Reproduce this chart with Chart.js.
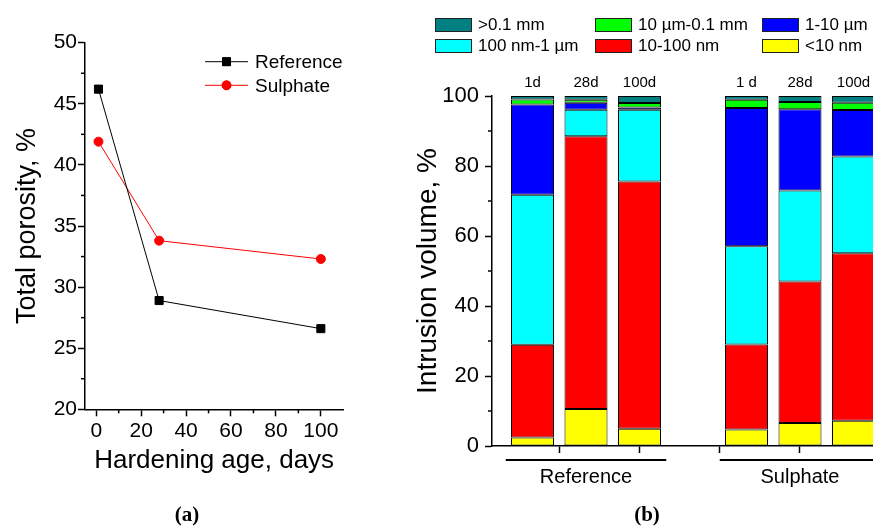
<!DOCTYPE html>
<html><head><meta charset="utf-8">
<script src="https://cdn.jsdelivr.net/npm/chart.js@4/dist/chart.umd.min.js"></script>
<style>
html,body{margin:0;padding:0;background:#fff;overflow:hidden;width:873px;height:527px;position:relative;}
#wa{position:absolute;left:0;top:0;width:360px;height:527px;}
#wb{position:absolute;left:400px;top:0;width:500px;height:527px;}
.cap{position:absolute;font:bold 21px "Liberation Serif",serif;top:502px;transform:translateX(-50%);color:#000;}
#legB{position:absolute;left:435px;top:18px;display:grid;grid-template-columns:160px 167px auto;row-gap:7px;font:17px "Liberation Sans",Arial,sans-serif;color:#000;}
.li{display:flex;align-items:center;height:14px;white-space:nowrap;}
.sw{width:35px;height:12px;border:1px solid #222;margin-right:6px;flex:none;}
</style></head><body>
<div id="wa"><canvas id="ca"></canvas></div>
<div id="wb"><canvas id="cb"></canvas></div>
<div id="legB"></div>
<div class="cap" style="left:187px">(a)</div>
<div class="cap" style="left:647px">(b)</div>
<script>
const FONT = '"Liberation Sans", Arial, sans-serif';

// ---- Panel (a): total porosity ----
const ageDays = [1, 28, 100];
const porosityReference = [46.2, 28.9, 26.6];
const porositySulphate = [41.9, 33.8, 32.3];
const seriesNames = ['Reference', 'Sulphate'];

// ---- Panel (b): intrusion volume by pore class ----
const groupNames = ['Reference', 'Sulphate'];
const groupAges = [['1d', '28d', '100d'], ['1 d', '28d', '100d']];
const poreClasses = ['<10 nm', '10-100 nm', '100 nm-1 µm', '1-10 µm', '10 µm-0.1 mm', '>0.1 mm'];
// order of bars: Ref 1d, Ref 28d, Ref 100d, Sul 1d, Sul 28d, Sul 100d
const volBelow10nm   = [2.4, 10.6, 4.9, 4.7, 6.6, 7.2];
const vol10to100nm   = [26.5, 77.9, 70.7, 24.3, 40.4, 47.9];
const vol100nmTo1um  = [42.9, 7.6, 20.5, 28.1, 26.0, 27.6];
const vol1to10um     = [25.8, 2.0, 0.6, 39.5, 23.2, 13.3];
const vol10umTo01mm  = [1.4, 0.8, 1.3, 2.3, 2.1, 2.1];
const volAbove01mm   = [1.0, 1.1, 2.0, 1.1, 1.7, 1.9];
const volumeTicks = [0, 20, 40, 60, 80, 100];
const groupAxisTicks = [0.5, 2, 3.5, 5, 6.5];

const classValues = [volBelow10nm, vol10to100nm, vol100nmTo1um, vol1to10um, vol10umTo01mm, volAbove01mm];
const classColors = ['#ffff00', '#ff0000', '#00ffff', '#0000ff', '#00ff00', '#008080'];

Chart.defaults.color = '#000';
Chart.defaults.font.family = FONT;

// slot index for each bar (a blank slot separates the two groups)
const SLOTS_PER_GROUP = 4;
const barSlots = [];
const barLabels = [];
groupAges.forEach((ages, g) => ages.forEach((a, i) => { barSlots.push(g * SLOTS_PER_GROUP + i); barLabels.push(a); }));

// minor ticks plugin (midpoints between major ticks)
const minorTicks = {
  id: 'minorTicks',
  afterDraw(chart, args, opts) {
    const ctx = chart.ctx;
    ctx.save();
    ctx.strokeStyle = '#000';
    ctx.lineWidth = 1.5;
    (opts.axes || []).forEach(id => {
      const s = chart.scales[id];
      const t = s.ticks.map(k => k.value);
      for (let i = 0; i < t.length - 1; i++) {
        const m = (t[i] + t[i + 1]) / 2;
        const p = s.getPixelForValue(m);
        ctx.beginPath();
        if (s.isHorizontal()) { ctx.moveTo(p, s.top); ctx.lineTo(p, s.top + opts.length); }
        else { ctx.moveTo(s.right, p); ctx.lineTo(s.right - opts.length, p); }
        ctx.stroke();
      }
    });
    ctx.restore();
  }
};

// legend for panel (a), drawn inside the plot
const lineLegend = {
  id: 'lineLegend',
  afterDraw(chart) {
    const ctx = chart.ctx, a = chart.chartArea;
    ctx.save();
    chart.data.datasets.forEach((ds, i) => {
      const y = a.top + 19 + i * 23.6;
      const x0 = a.left + 120, x1 = a.left + 163;
      ctx.strokeStyle = ds.borderColor; ctx.lineWidth = 1;
      ctx.beginPath(); ctx.moveTo(x0, y); ctx.lineTo(x1, y); ctx.stroke();
      Chart.helpers.drawPoint(ctx, {pointStyle: ds.pointStyle, radius: ds.pointRadius, borderWidth: 1}, (x0 + x1) / 2, y);
      ctx.fillStyle = ds.borderColor;
      ctx.fill();
      ctx.fillStyle = '#000';
      ctx.font = '19px ' + FONT;
      ctx.textBaseline = 'middle';
      ctx.textAlign = 'left';
      ctx.fillText(ds.label, a.left + 170, y + 1);
    });
    ctx.restore();
  }
};

new Chart(document.getElementById('ca'), {
  type: 'line',
  data: {
    datasets: [
      {label: seriesNames[0], data: ageDays.map((d, i) => ({x: d, y: porosityReference[i]})),
       borderColor: '#000', backgroundColor: '#000', borderWidth: 1, pointStyle: 'rect', pointRadius: 5.7,
       pointBorderWidth: 1, pointBorderColor: '#000', pointBackgroundColor: '#000', tension: 0},
      {label: seriesNames[1], data: ageDays.map((d, i) => ({x: d, y: porositySulphate[i]})),
       borderColor: '#ff0000', backgroundColor: '#ff0000', borderWidth: 1, pointStyle: 'circle', pointRadius: 4.5,
       pointBorderWidth: 1, pointBorderColor: '#ff0000', pointBackgroundColor: '#ff0000', tension: 0}
    ]
  },
  options: {
    responsive: true, maintainAspectRatio: false, animation: false,
    layout: {padding: {top: 42.7, right: 16.7, left: 0, bottom: 0}},
    plugins: {legend: {display: false}, tooltip: {enabled: false}, minorTicks: {axes: ['x', 'y'], length: 4}},
    scales: {
      x: {type: 'linear', min: -5, max: 110,
          ticks: {stepSize: 20, includeBounds: false, font: {size: 21}, padding: 2, maxRotation: 0},
          grid: {drawOnChartArea: false, drawTicks: true, tickLength: 7, tickWidth: 1.5, tickColor: '#000'},
          border: {display: true, color: '#000', width: 1.5},
          title: {display: true, text: 'Hardening age, days', font: {size: 26}, padding: {top: 0, bottom: 51}},
          afterFit: s => { s.height = 117.7; }},
      y: {type: 'linear', min: 20, max: 50,
          ticks: {stepSize: 5, includeBounds: false, font: {size: 21}, padding: 1},
          grid: {drawOnChartArea: false, drawTicks: true, tickLength: 7, tickWidth: 1.5, tickColor: '#000'},
          border: {display: true, color: '#000', width: 1.5},
          title: {display: true, text: 'Total porosity, %', font: {size: 27}, padding: {top: 11, bottom: 0}},
          afterFit: s => { s.width = 85; }}
    }
  },
  plugins: [minorTicks, lineLegend]
});

// panel (b) plugins: age labels above bars, group brackets below axis
const barDecor = {
  id: 'barDecor',
  afterDraw(chart) {
    const ctx = chart.ctx, a = chart.chartArea, xs = chart.scales.x;
    ctx.save();
    ctx.fillStyle = '#000';
    ctx.textAlign = 'center';
    ctx.textBaseline = 'middle';
    ctx.font = '15px ' + FONT;
    barSlots.forEach((s, i) => ctx.fillText(barLabels[i], xs.getPixelForValue(s), a.top - 13));
    ctx.strokeStyle = '#000';
    ctx.lineWidth = 2;
    ctx.font = '20px ' + FONT;
    groupNames.forEach((g, gi) => {
      const first = gi * SLOTS_PER_GROUP, last = first + groupAges[gi].length - 1;
      const y = a.bottom + 14;
      ctx.beginPath();
      ctx.moveTo(xs.getPixelForValue(first - 0.5), y);
      ctx.lineTo(xs.getPixelForValue(last + 0.5), y);
      ctx.stroke();
      ctx.fillText(g, xs.getPixelForValue((first + last) / 2), a.bottom + 31);
    });
    ctx.restore();
  }
};

const chartB = new Chart(document.getElementById('cb'), {
  type: 'bar',
  data: {
    datasets: poreClasses.map((name, c) => ({
      label: name,
      data: classValues[c].map((v, i) => ({x: barSlots[i], y: v})),
      backgroundColor: classColors[c],
      borderColor: '#000', borderWidth: 1, borderSkipped: false,
      barPercentage: 0.804, categoryPercentage: 1
    }))
  },
  options: {
    responsive: true, maintainAspectRatio: false, animation: false,
    layout: {padding: {top: 96, right: 9, left: 0, bottom: 0}},
    plugins: {legend: {display: false}, tooltip: {enabled: false}, minorTicks: {axes: ['y'], length: 4}},
    scales: {
      x: {type: 'linear', stacked: true, min: -0.757, max: 6.701, offset: false,
          afterBuildTicks: s => { s.ticks = groupAxisTicks.map(v => ({value: v})); },
          ticks: {callback: () => '', font: {size: 20}},
          grid: {offset: false, drawOnChartArea: false, drawTicks: true, tickLength: 7, tickWidth: 1.5, tickColor: '#000'},
          border: {display: true, color: '#000', width: 1.5},
          afterFit: s => { s.height = 81; }},
      y: {type: 'linear', stacked: true, min: 0, max: 100,
          afterBuildTicks: s => { s.ticks = volumeTicks.map(v => ({value: v})); },
          ticks: {font: {size: 22}, padding: 6},
          grid: {drawOnChartArea: false, drawTicks: true, tickLength: 7, tickWidth: 1.5, tickColor: '#000'},
          border: {display: true, color: '#000', width: 1.5},
          title: {display: true, text: 'Intrusion volume, %', font: {size: 28}, padding: {top: 11, bottom: 0}},
          afterFit: s => { s.width = 92; }}
    }
  },
  plugins: [minorTicks, barDecor]
});

// legend for panel (b): 3 columns, top class first
const leg = document.getElementById('legB');
chartB.data.datasets.slice().reverse().forEach(ds => {
  const d = document.createElement('div'); d.className = 'li';
  const sw = document.createElement('span'); sw.className = 'sw'; sw.style.background = ds.backgroundColor;
  const t = document.createElement('span'); t.textContent = ds.label;
  d.appendChild(sw); d.appendChild(t); leg.appendChild(d);
});
</script>
</body></html>
